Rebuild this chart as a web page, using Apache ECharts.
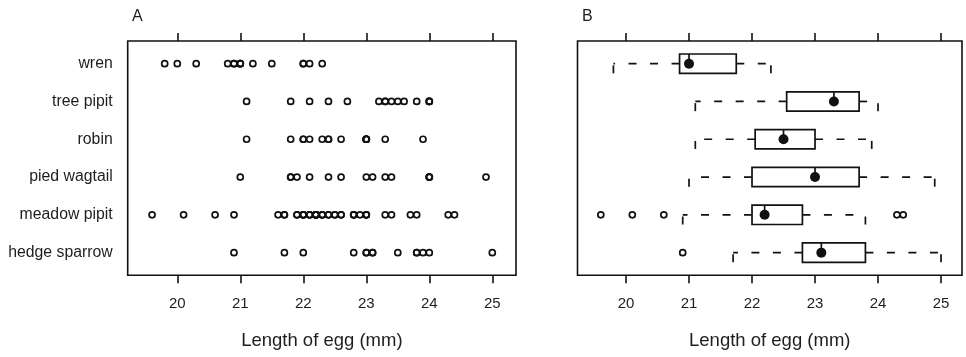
<!DOCTYPE html>
<html><head><meta charset="utf-8">
<script src="https://cdn.jsdelivr.net/npm/echarts@6/dist/echarts.min.js"></script>
<style>html,body{margin:0;padding:0;background:#fff}#c{width:966px;height:357px}</style>
</head><body><div id="c"></div>
<script>
// Categories, bottom to top
const species = ['hedge sparrow', 'meadow pipit', 'pied wagtail', 'robin', 'tree pipit', 'wren'];
// Egg lengths (mm) per host species
const hedgeSparrow = [20.9, 21.7, 22.0, 22.8, 23.0, 23.0, 23.1, 23.1, 23.5, 23.8, 23.8, 23.9, 24.0, 25.0];
const meadowPipit = [19.6, 20.1, 20.6, 20.9, 21.6, 21.7, 21.7, 21.9, 21.9,
  22.0, 22.0, 22.0, 22.0, 22.1, 22.1, 22.1,
  22.2, 22.2, 22.2, 22.2, 22.2, 22.2, 22.2,
  22.3, 22.3, 22.3, 22.4, 22.4, 22.5, 22.5, 22.6, 22.6,
  22.8, 22.8, 22.8, 22.9, 23.0, 23.0, 23.0, 23.3, 23.4, 23.7, 23.8, 24.3, 24.4];
const piedWagtail = [21.0, 21.8, 21.8, 21.9, 22.1, 22.4, 22.6, 23.0, 23.1, 23.3, 23.4, 24.0, 24.0, 24.0, 24.9];
const robin = [21.1, 21.8, 22.0, 22.0, 22.1, 22.3, 22.4, 22.4, 22.6, 23.0, 23.0, 23.0, 23.0, 23.0, 23.3, 23.9];
const treePipit = [21.1, 21.8, 22.1, 22.4, 22.7, 23.2, 23.3, 23.3, 23.4, 23.5, 23.6, 23.8, 24.0, 24.0, 24.0];
const wren = [19.8, 20.0, 20.3, 20.8, 20.9, 20.9, 21.0, 21.0, 21.0, 21.2, 21.5, 22.0, 22.0, 22.1, 22.3];
const xTicks = [20, 21, 22, 23, 24, 25];
const rowTicks = [1, 2, 3, 4, 5, 6];
const xTitle = 'Length of egg (mm)';
const panelLabels = ['A', 'B'];

const groups = [hedgeSparrow, meadowPipit, piedWagtail, robin, treePipit, wren];

// R-style fivenum / boxplot.stats
function fivenum(arr) {
  const x = arr.slice().sort((a, b) => a - b);
  const n = x.length;
  const n4 = Math.floor((n + 3) / 2) / 2;
  const d = [1, n4, (n + 1) / 2, n + 1 - n4, n];
  return d.map(v => 0.5 * (x[Math.floor(v) - 1] + x[Math.ceil(v) - 1]));
}
function boxStats(arr) {
  const f = fivenum(arr);
  const iqr = f[3] - f[1];
  const lo = f[1] - 1.5 * iqr - 1e-9, hi = f[3] + 1.5 * iqr + 1e-9;
  const inside = arr.filter(v => v >= lo && v <= hi);
  const out = arr.filter(v => v < lo || v > hi);
  return { lw: Math.min(...inside), q1: f[1], med: f[2], q3: f[3], uw: Math.max(...inside), out };
}

const FONT = '"Liberation Sans", Arial, Helvetica, sans-serif';
const INK = '#111';
const TXT = '#1e1e1e';

const pointsA = [];
groups.forEach((g, i) => g.forEach(v => pointsA.push([v, i + 1])));
const boxData = [], medData = [], outData = [];
groups.forEach((g, i) => {
  const s = boxStats(g);
  boxData.push([i + 1, s.lw, s.q1, s.med, s.q3, s.uw]);
  medData.push([s.med, i + 1]);
  s.out.forEach(v => outData.push([v, i + 1]));
});

const boxHalf = 0.256;
const yMin = 0.4, yMax = 6.6;

function xAx(grid, min, max, pos, withLabels) {
  const a = {
    type: 'value', gridIndex: grid, min: min, max: max, position: pos,
    axisLine: { show: false },
    splitLine: { show: false },
    axisTick: { show: true, customValues: xTicks, length: 8, inside: false, lineStyle: { color: INK, width: 1.6 } },
    axisLabel: { show: withLabels, customValues: xTicks, margin: 21, fontSize: 15, color: TXT, fontFamily: FONT }
  };
  if (withLabels) {
    a.name = xTitle; a.nameLocation = 'middle'; a.nameGap = 56;
    a.nameTextStyle = { fontSize: 18.5, color: TXT, fontFamily: FONT };
  }
  return a;
}

const option = {
  animation: false,
  backgroundColor: '#fff',
  title: [
    { text: panelLabels[0], left: 127, top: 4, textStyle: { fontSize: 16, fontWeight: 'normal', color: TXT, fontFamily: FONT } },
    { text: panelLabels[1], left: 577, top: 4, textStyle: { fontSize: 16, fontWeight: 'normal', color: TXT, fontFamily: FONT } }
  ],
  grid: [
    { left: 127.7, top: 41, width: 388.3, height: 234.3, show: true, borderColor: INK, borderWidth: 1.6, backgroundColor: 'transparent' },
    { left: 577.5, top: 41, width: 384.5, height: 234.3, show: true, borderColor: INK, borderWidth: 1.6, backgroundColor: 'transparent' }
  ],
  xAxis: [
    xAx(0, 19.213, 25.376, 'bottom', true),
    xAx(0, 19.213, 25.376, 'top', false),
    xAx(1, 19.23, 25.333, 'bottom', true),
    xAx(1, 19.23, 25.333, 'top', false)
  ],
  yAxis: [
    {
      type: 'value', gridIndex: 0, min: yMin, max: yMax,
      axisLine: { show: false }, axisTick: { show: false }, splitLine: { show: false },
      axisLabel: {
        customValues: rowTicks, margin: 15, fontSize: 15.8, color: TXT, fontFamily: FONT,
        formatter: v => species[Math.round(v) - 1]
      }
    },
    {
      type: 'value', gridIndex: 1, min: yMin, max: yMax,
      axisLine: { show: false }, axisTick: { show: false }, splitLine: { show: false },
      axisLabel: { show: false }
    }
  ],
  series: [
    {
      type: 'scatter', xAxisIndex: 0, yAxisIndex: 0, data: pointsA,
      symbol: 'circle', symbolSize: 6, silent: true,
      itemStyle: { color: 'rgba(0,0,0,0)', borderColor: INK, borderWidth: 1.7, opacity: 1 }
    },
    {
      type: 'custom', xAxisIndex: 2, yAxisIndex: 1, data: boxData, silent: true,
      encode: { x: [1, 2, 3, 4, 5], y: 0 },
      renderItem: function (params, api) {
        const y = api.value(0);
        const lw = api.coord([api.value(1), y]);
        const q1 = api.coord([api.value(2), y]);
        const md = api.coord([api.value(3), y]);
        const q3 = api.coord([api.value(4), y]);
        const uw = api.coord([api.value(5), y]);
        const h = api.size([0, boxHalf])[1];
        const cy = q1[1];
        const solid = { stroke: INK, lineWidth: 1.7, fill: null };
        const dash = { stroke: INK, lineWidth: 1.7, lineDash: [8, 13.5], fill: null };
        return {
          type: 'group', children: [
            { type: 'line', shape: { x1: q1[0], y1: cy, x2: lw[0], y2: cy }, style: dash },
            { type: 'line', shape: { x1: q3[0], y1: cy, x2: uw[0], y2: cy }, style: dash },
            { type: 'line', shape: { x1: lw[0], y1: cy + h, x2: lw[0], y2: cy + h - 8 }, style: solid },
            { type: 'line', shape: { x1: uw[0], y1: cy + h, x2: uw[0], y2: cy + h - 8 }, style: solid },
            { type: 'line', shape: { x1: md[0], y1: cy - h, x2: md[0], y2: cy - h + 8 }, style: solid },
            { type: 'rect', shape: { x: q1[0], y: cy - h, width: q3[0] - q1[0], height: 2 * h }, style: { stroke: INK, lineWidth: 1.7, fill: 'none' } }
          ]
        };
      }
    },
    {
      type: 'scatter', xAxisIndex: 2, yAxisIndex: 1, data: medData, z: 5,
      symbol: 'circle', symbolSize: 10, silent: true, itemStyle: { color: INK, opacity: 1 }
    },
    {
      type: 'scatter', xAxisIndex: 2, yAxisIndex: 1, data: outData,
      symbol: 'circle', symbolSize: 6, silent: true,
      itemStyle: { color: 'rgba(0,0,0,0)', borderColor: INK, borderWidth: 1.7, opacity: 1 }
    }
  ]
};
const chart = echarts.init(document.getElementById('c'), null, { renderer: 'canvas' });
chart.setOption(option);
</script>
</body></html>
